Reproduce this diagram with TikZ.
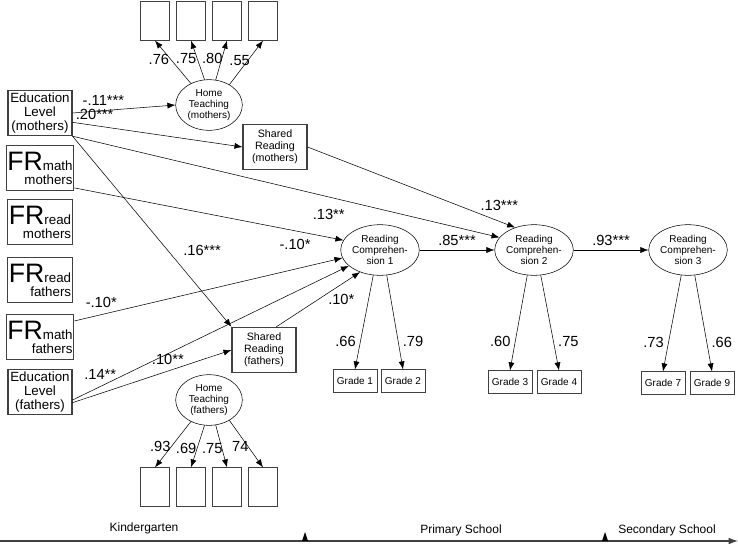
\documentclass[tikz,border=0pt]{standalone}
\usepackage{fontspec}
\setmainfont{Liberation Sans}
\usetikzlibrary{positioning}
\usetikzlibrary{arrows.meta}
\usetikzlibrary{shapes.geometric}

\tikzset{
    obs/.style={draw, thick, draw=black!75, minimum width=48pt, minimum height=34pt, inner sep=1pt, align=center, font=\fontsize{10}{10.5}\selectfont},
    item/.style={draw, draw=black!75, minimum width=22pt, minimum height=29pt},
    grade/.style={draw, draw=black!75, minimum width=33pt, minimum height=17pt, inner sep=1pt, font=\fontsize{7.5}{8}\selectfont},
    latent/.style={draw, ellipse, minimum width=50pt, minimum height=38pt, inner sep=0pt, align=center, font=\fontsize{7.5}{8}\selectfont},
    path/.style={-{Latex[length=6pt,width=4.5pt]}},
    coef/.style={font=\fontsize{11}{11}\selectfont}
}

\newcommand{\frbox}[2]{{\fontsize{20}{20}\selectfont FR}{\fontsize{10}{10}\selectfont #1}\\#2}

\begin{document}
\begin{tikzpicture}[x=0.75pt, y=-0.75pt]

    \useasboundingbox (0,0) rectangle (738,546);

    % left column
    \node[obs] (eduM) at (40,113) {Education\\Level\\(mothers)};
    \node[obs, align=right] (frMathM) at (40,168) {\frbox{math}{mothers}};
    \node[obs, align=right] (frReadM) at (40,222) {\frbox{read}{mothers}};
    \node[obs, align=right] (frReadF) at (40,280) {\frbox{read}{fathers}};
    \node[obs, align=right] (frMathF) at (40,337) {\frbox{math}{fathers}};
    \node[obs] (eduF) at (40,392) {Education\\Level\\(fathers)};

    % home teaching and shared reading
    \node[latent] (htM) at (209,105) {Home\\Teaching\\(mothers)};
    \node[latent] (htF) at (209,400) {Home\\Teaching\\(fathers)};
    \node[obs, font=\fontsize{8}{9}\selectfont] (srM) at (275,147) {Shared\\Reading\\(mothers)};
    \node[obs, font=\fontsize{8}{9}\selectfont] (srF) at (264,350) {Shared\\Reading\\(fathers)};

    \foreach \i/\x in {1/155, 2/191, 3/227, 4/263} {
        \node[item] (itM\i) at (\x,21) {};
        \node[item] (itF\i) at (\x,487) {};
    }

    % reading comprehension
    \node[latent] (rc1) at (380,250) {Reading\\Comprehen-\\sion 1};
    \node[latent] (rc2) at (534,250) {Reading\\Comprehen-\\sion 2};
    \node[latent] (rc3) at (688,250) {Reading\\Comprehen-\\sion 3};

    \node[grade] (g1) at (355,381) {Grade 1};
    \node[grade] (g2) at (403,381) {Grade 2};
    \node[grade] (g3) at (510,382) {Grade 3};
    \node[grade] (g4) at (559,382) {Grade 4};
    \node[grade] (g7) at (663,383) {Grade 7};
    \node[grade] (g9) at (712,383) {Grade 9};

    % loadings
    \draw[path] (htM.130) -- (itM1.south) node[coef, pos=0.55, left=-2pt] {.76};
    \draw[path] (htM.100) -- (itM2.south) node[coef, pos=0.55, left=-3pt] {.75};
    \draw[path] (htM.75) -- (itM3.south) node[coef, pos=0.55, left=-4pt] {.80};
    \draw[path] (htM.45) -- (itM4.south) node[coef, pos=0.55, left=-5pt] {.55};
    \draw[path] (htF.-130) -- (itF1.north) node[coef, pos=0.55, left=-3pt] {.93};
    \draw[path] (htF.-100) -- (itF2.north) node[coef, pos=0.55, left=-3pt] {.69};
    \draw[path] (htF.-75) -- (itF3.north) node[coef, pos=0.55, left=-4pt] {.75};
    \draw[path] (htF.-45) -- (itF4.north) node[coef, pos=0.55, left=-4pt] {74};

    \draw[path] (rc1.-105) -- (g1.north) node[coef, pos=0.7, left] {.66};
    \draw[path] (rc1.-75) -- (g2.north) node[coef, pos=0.7, right] {.79};
    \draw[path] (rc2.-105) -- (g3.north) node[coef, pos=0.7, left] {.60};
    \draw[path] (rc2.-75) -- (g4.north) node[coef, pos=0.7, right] {.75};
    \draw[path] (rc3.-105) -- (g7.north) node[coef, pos=0.7, left] {.73};
    \draw[path] (rc3.-75) -- (g9.north) node[coef, pos=0.7, right] {.66};

    % structural paths
    \draw[path] (eduM.east) -- (htM.west) node[coef, pos=0.3, above] {-.11***};
    \draw[path] ([yshift=-7pt]eduM.east) -- (srM.west) node[coef, pos=0.13, above=1pt] {.20***};
    \draw[path] (eduM.south east) -- (rc2.160) node[coef, pos=0.6, below=6pt] {.13**};
    \draw[path] (eduM.south east) -- (srF.north west) node[coef, pos=0.6, right=8pt] {.16***};
    \draw[path] (frMathM.-30) -- (rc1.165) node[coef, pos=0.82, below=3pt] {-.10*};
    \draw[path] (srM.east) -- (rc2.130) node[coef, pos=0.82, above right=-2pt] {.13***};
    \draw[path] (frMathF.25) -- (rc1.192) node[coef, pos=0.1, above=2pt] {-.10*};
    \draw[path] ([yshift=-6pt]eduF.east) -- (rc1.207) node[coef, pos=0.1, above=2pt] {.14**};
    \draw[path] ([yshift=-8pt]eduF.east) -- (srF.west) node[coef, pos=0.6, above=1pt] {.10**};
    \draw[path] (srF.62) -- (rc1.228) node[coef, pos=0.5, right=4pt] {.10*};
    \draw[path] (rc1.east) -- (rc2.west) node[coef, midway, above] {.85***};
    \draw[path] (rc2.east) -- (rc3.west) node[coef, midway, above] {.93***};

    % timeline
    \coordinate (tStart) at (0,541);
    \coordinate (tEnd) at (738,541);
    \draw[thick, black!75, -{Latex[length=7pt,width=5pt]}] (tStart) -- (tEnd);
    \fill (302,541) -- (308,541) -- (305,532) -- cycle;
    \fill (602,541) -- (608,541) -- (605,532) -- cycle;
    \node[font=\fontsize{9}{9}\selectfont] (kg) at (144,528) {Kindergarten};
    \node[font=\fontsize{9}{9}\selectfont] (ps) at (461,530) {Primary School};
    \node[font=\fontsize{9}{9}\selectfont] (ss) at (667,530) {Secondary School};

\end{tikzpicture}
\end{document}
